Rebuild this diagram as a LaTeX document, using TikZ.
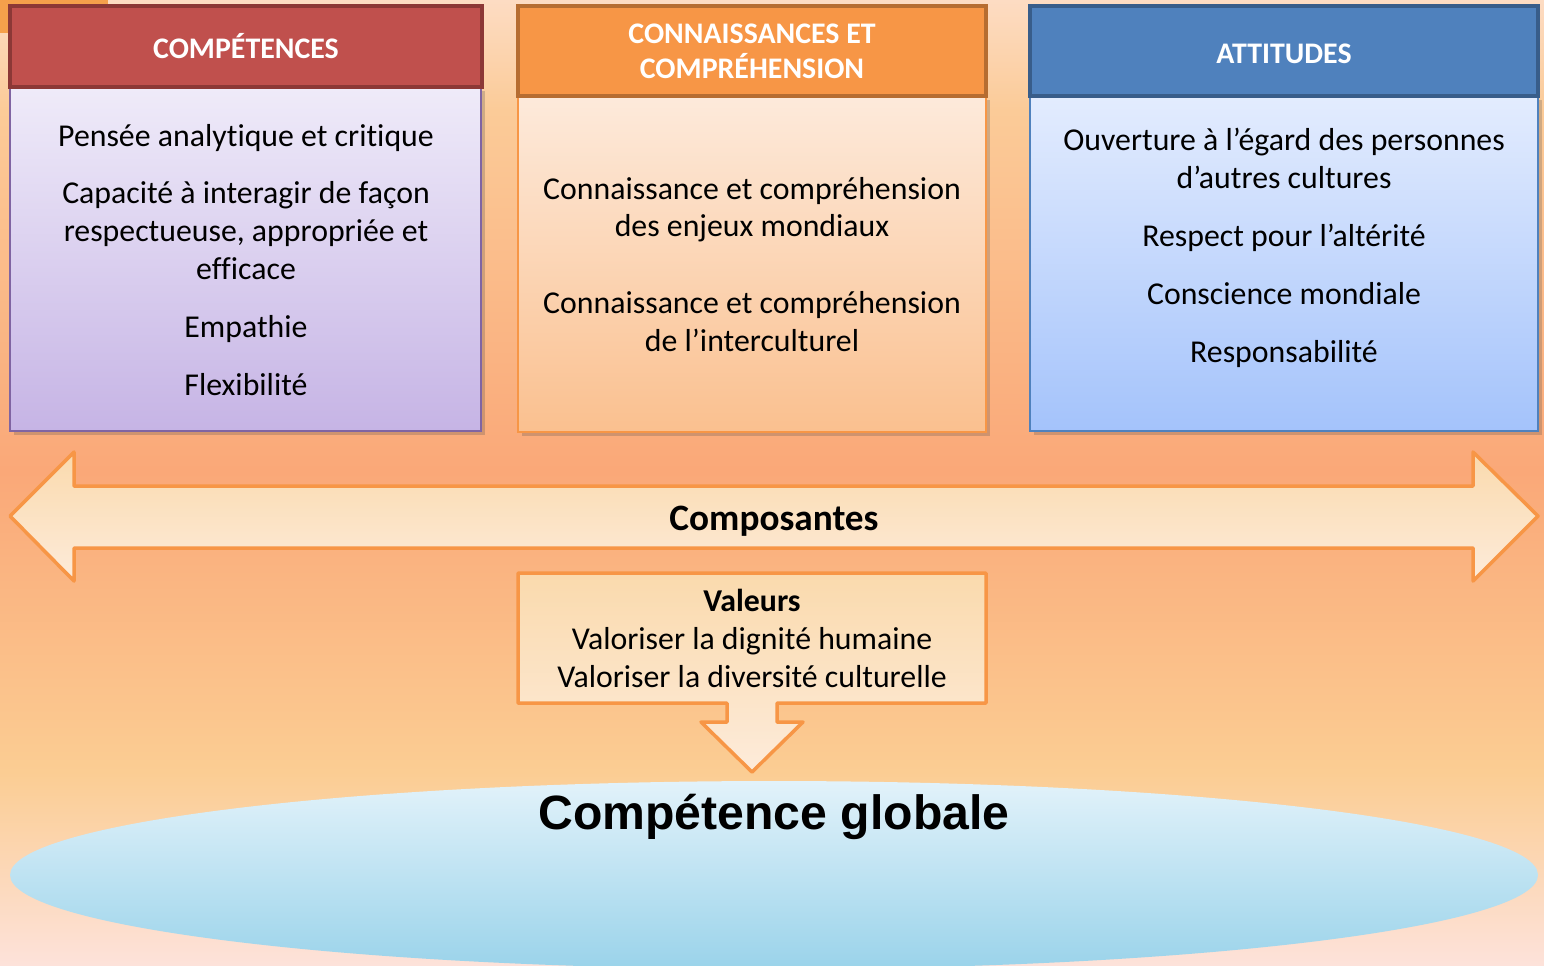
\documentclass[tikz,border=0pt]{standalone}
\usepackage{fontspec}
\setmainfont{Carlito}[Ligatures=NoCommon]
\newfontfamily\globalfont{Liberation Sans}
\usetikzlibrary{shadows,shapes.geometric}

\definecolor{bgtop}{HTML}{FDDCC3}
\definecolor{bgpeach}{HTML}{FBCB98}
\definecolor{bgmid}{HTML}{FAA878}
\definecolor{bglow}{HTML}{FBCD93}
\definecolor{bgbot}{HTML}{FDE2DA}
\definecolor{redhead}{HTML}{C0504D}
\definecolor{redline}{HTML}{8C3836}
\definecolor{lilactop}{HTML}{EFEBF9}
\definecolor{lilacbot}{HTML}{C6B4E5}
\definecolor{lilacline}{HTML}{8064A2}
\definecolor{orangehead}{HTML}{F79646}
\definecolor{orangeline}{HTML}{B66D31}
\definecolor{peachtop}{HTML}{FDEADB}
\definecolor{peachbot}{HTML}{FAC08F}
\definecolor{bluehead}{HTML}{4F81BD}
\definecolor{blueline}{HTML}{385D8A}
\definecolor{skytop}{HTML}{E3ECFE}
\definecolor{skybot}{HTML}{A4C3FB}
\definecolor{arrowtop}{HTML}{FADAAD}
\definecolor{arrowbot}{HTML}{FDEBDA}
\definecolor{globetop}{HTML}{E2F2FA}
\definecolor{globebot}{HTML}{9AD3EA}
\definecolor{cornerorange}{HTML}{F5A04B}

\pgfdeclareverticalshading{bgfade}{100bp}{color(0bp)=(bgbot); color(25bp)=(bgbot);
  color(35bp)=(bglow); color(50.6bp)=(bgmid); color(69.3bp)=(bgpeach);
  color(75bp)=(bgtop); color(100bp)=(bgtop)}

\tikzset{
  headbox/.style={rectangle, line width=0.35mm, text=white, align=center,
    font=\fontsize{8.5}{10}\selectfont\bfseries},
  bodybox/.style={rectangle, line width=0.25mm,
    drop shadow={shadow xshift=0.35mm, shadow yshift=-0.4mm, opacity=0.25, fill=black!70}},
  bodytext/.style={align=center, text=black, font=\fontsize{9.05}{10.8}\selectfont},
  orangeshape/.style={draw=orangehead, line width=0.35mm, line join=round}
}

\begin{document}
\begin{tikzpicture}[x=0.1mm,y=-0.1mm]
\useasboundingbox (0,0) rectangle (1544,965);
\shade[shading=bgfade] (0,0) rectangle (1544,965);
\fill[cornerorange] (0,0) rectangle (108,33);

% les trois composantes
\node[bodybox, draw=lilacline, top color=lilactop, bottom color=lilacbot,
  minimum width=47.1mm, minimum height=34.4mm] (compbody) at (245.5,259) {};
\node[bodybox, draw=orangehead, top color=peachtop, bottom color=peachbot,
  minimum width=46.8mm, minimum height=33.6mm] (connbody) at (752,264) {};
\node[bodybox, draw=bluehead, top color=skytop, bottom color=skybot,
  minimum width=50.8mm, minimum height=33.5mm] (attbody) at (1284,263.5) {};

\node[headbox, fill=redhead, draw=redline, minimum width=47.2mm, minimum height=8.1mm]
  (comphead) at (246,46.5) {COMPÉTENCES};
\node[headbox, fill=orangehead, draw=orangeline, minimum width=46.8mm, minimum height=9mm]
  (connhead) at (752,51) {CONNAISSANCES ET\\COMPRÉHENSION};
\node[headbox, fill=bluehead, draw=blueline, minimum width=50.8mm, minimum height=9mm,
  text height=2.5mm, text depth=0mm] (atthead) at (1284,51) {ATTITUDES};

\node[bodytext] (comptext) at (246,260) {Pensée analytique et critique\\[5.7pt]
  Capacité à interagir de façon\\ respectueuse, appropriée et\\ efficace\\[5.7pt]
  Empathie\\[5.7pt] Flexibilité};
\node[bodytext] (conntext) at (752,264.5) {Connaissance et compréhension\\ des enjeux mondiaux\\[11.1pt]
  Connaissance et compréhension\\ de l’interculturel};
\node[bodytext] (atttext) at (1284,247.5) {Ouverture à l’égard des personnes\\ d’autres cultures\\[5.7pt]
  Respect pour l’altérité\\[5.7pt] Conscience mondiale\\[5.7pt] Responsabilité};

% fleche double
\path[orangeshape, top color=arrowtop, bottom color=arrowbot]
  (10,516) -- (74,452) -- (74,486) -- (1473,486) -- (1473,452) -- (1538,516)
  -- (1473,581) -- (1473,548) -- (74,548) -- (74,581) -- cycle;
\node[font=\fontsize{10.6}{12}\selectfont\bfseries] (compos) at (774,521) {Composantes};

% valeurs
\path[orangeshape, top color=arrowtop, bottom color=arrowbot]
  (518,573) -- (986,573) -- (986,703) -- (777,703) -- (777,722) -- (803,722)
  -- (752,772) -- (701,722) -- (727,722) -- (727,703) -- (518,703) -- cycle;
\node[bodytext] (valeurs) at (752,638.5) {\bfseries Valeurs\\ Valoriser la dignité humaine\\
  Valoriser la diversité culturelle};

% competence globale
\node[ellipse, top color=globetop, bottom color=globebot, inner sep=0pt,
  minimum width=152.8mm, minimum height=18.8mm] (globe) at (774,875) {};
\node[font=\fontsize{13.7}{15}\globalfont\bfseries] (globetext) at (774,817) {Compétence globale};
\end{tikzpicture}
\end{document}
